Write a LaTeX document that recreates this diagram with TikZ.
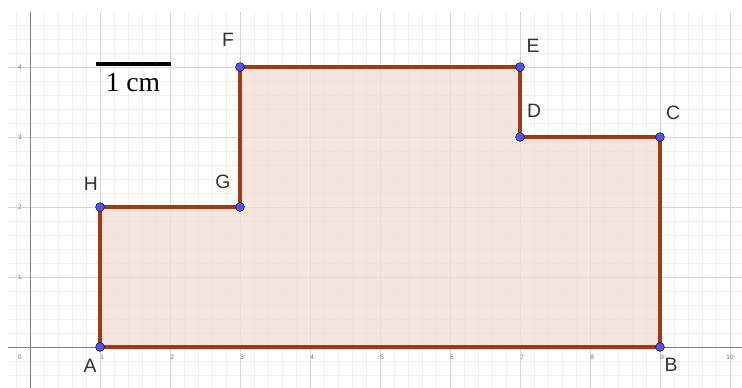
\documentclass[tikz,border=0pt]{standalone}
\usepackage{fontspec}
\setmainfont{Liberation Serif}
\setsansfont{Liberation Sans}
\definecolor{polyfill}{RGB}{242,224,216}
\definecolor{polyedge}{RGB}{160,58,20}
\definecolor{ptfill}{RGB}{85,85,225}
\begin{document}
\begin{tikzpicture}[x=2.1cm,y=2.1cm,
  minorgrid/.style={draw=black!6,line width=0.4pt},
  majorgrid/.style={draw=black!16,line width=0.5pt},
  axisline/.style={draw=black!50,line width=0.8pt},
  ticklbl/.style={font=\sffamily\fontsize{5.5}{6}\selectfont,text=black!55,inner sep=0pt},
  pt/.style={circle,fill=ptfill,draw=blue!35!black,line width=0.4pt,inner sep=0pt,minimum size=7.5pt},
  ptlbl/.style={font=\sffamily\fontsize{16.5}{18}\selectfont,text=black!80,inner sep=0pt},
  polyshape/.style={draw=polyedge,line width=2.7pt,fill=polyfill,line join=miter}]
\useasboundingbox (-0.4286,-0.5857) rectangle (10.1714,4.9571);
\fill[white] (-0.4286,-0.5857) rectangle (10.1714,4.9571);
% grid
\draw[minorgrid] (-0.314,-0.5857) grid[step=0.2] (10.1714,4.786);
\draw[majorgrid] (-0.314,-0.5857) grid[step=1] (10.1714,4.786);
% axes
\draw[axisline] (-0.314,0) -- (10.1714,0);
\draw[axisline] (0,-0.5857) -- (0,4.786);
% tick labels
\node[ticklbl] (t0) at (-0.143,-0.143) {0};
\foreach \k in {1,...,9} {\node[ticklbl] (tx\k) at (\k+0.03,-0.143) {\k};}
\node[ticklbl] (tx10) at (10.0,-0.143) {10};
\foreach \k in {1,...,4} {\node[ticklbl] (ty\k) at (-0.143,\k) {\k};}
% vertices
\coordinate (A) at (1,0);
\coordinate (B) at (9,0);
\coordinate (C) at (9,3);
\coordinate (D) at (7,3);
\coordinate (E) at (7,4);
\coordinate (F) at (3,4);
\coordinate (G) at (3,2);
\coordinate (H) at (1,2);
\fill[polyfill,opacity=0.6] (A) -- (B) -- (C) -- (D) -- (E) -- (F) -- (G) -- (H) -- cycle;
\draw[polyshape,fill opacity=0.55] (A) -- (B) -- (C) -- (D) -- (E) -- (F) -- (G) -- (H) -- cycle;
\foreach \p in {A,B,C,D,E,F,G,H} {\node[pt] (p\p) at (\p) {};}
% labels
\node[ptlbl] (lA) at (0.857,-0.271) {A};
\node[ptlbl] (lB) at (9.157,-0.257) {B};
\node[ptlbl] (lC) at (9.186,3.343) {C};
\node[ptlbl] (lD) at (7.2,3.371) {D};
\node[ptlbl] (lE) at (7.186,4.3) {E};
\node[ptlbl] (lF) at (2.829,4.386) {F};
\node[ptlbl] (lG) at (2.757,2.357) {G};
\node[ptlbl] (lH) at (0.871,2.329) {H};
% scale bar
\coordinate (s1) at (0.943,4.043);
\coordinate (s2) at (2.021,4.043);
\draw[black,line width=4pt] (s1) -- (s2);
\node[font=\fontsize{23.5}{25}\selectfont,inner sep=0pt] (cm) at (1.471,3.771) {1 cm};
\end{tikzpicture}
\end{document}
